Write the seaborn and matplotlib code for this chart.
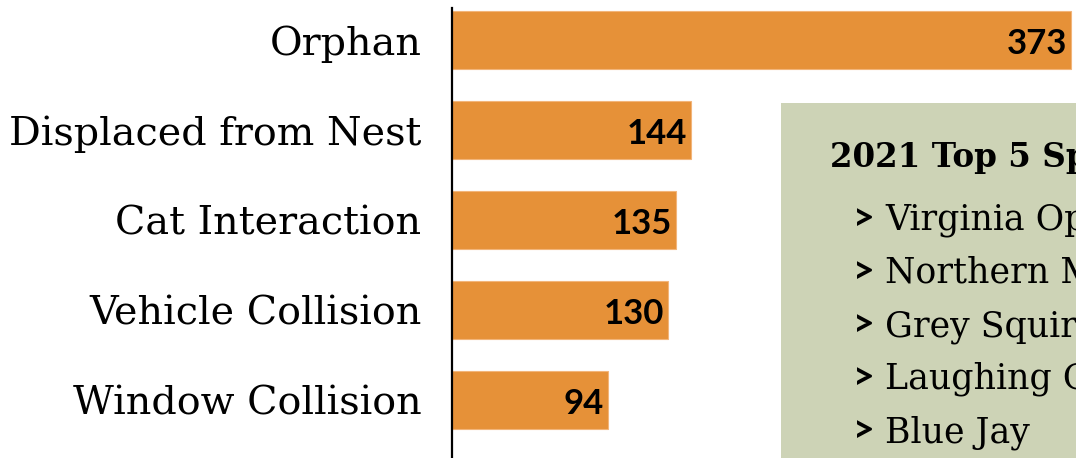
import matplotlib.pyplot as plt
import seaborn as sns
import pandas as pd
from matplotlib.patches import Rectangle

# datos
causes = ["Orphan", "Displaced from Nest", "Cat Interaction", "Vehicle Collision", "Window Collision"]
counts = [373, 144, 135, 130, 94]
box_title = "2021 Top 5 Species"
species = ["Virginia Opossum", "Northern Mockingbird", "Grey Squirrel", "Laughing Gull", "Blue Jay"]

df = pd.DataFrame({"cause": causes, "count": counts})

sns.set_theme(style="white")
W, H = 1076, 458
fig = plt.figure(figsize=(W / 100, H / 100), dpi=100)
ax = fig.add_axes([452 / W, 0, 624 / W, 450 / H])

sns.barplot(data=df, y="cause", x="count", orient="h", color="#E69138",
            saturation=1, width=0.64, edgecolor="#F2B57A", linewidth=0.8, ax=ax)

ax.set_xlim(0, 376)
ax.set_ylim(4.644, -0.356)
ax.set_xlabel("")
ax.set_ylabel("")
ax.set_xticks([])
for s in ["top", "right", "bottom"]:
    ax.spines[s].set_visible(False)
ax.spines["left"].set_color("black")
ax.spines["left"].set_linewidth(1.6)
ax.tick_params(axis="y", length=0, pad=22)
for lab in ax.get_yticklabels():
    lab.set_fontfamily("DejaVu Serif")
    lab.set_fontsize(28.5)
    lab.set_color("black")

# etiquetas de valor dentro de la barra
for i, v in enumerate(counts):
    ax.annotate(str(v), xy=(v, i), xytext=(-4, -4), textcoords="offset pixels",
                ha="right", va="center", fontsize=25, fontweight="bold",
                family="Lato", color="black")

# recuadro de especies
fig.patches.append(Rectangle((781 / W, 0), 400 / W, (H - 103) / H,
                             transform=fig.transFigure, facecolor="#CDD3B6",
                             edgecolor="none", zorder=0))
fig.text(830 / W, 1 - 167 / H, box_title, family="DejaVu Serif", fontweight="bold",
         fontsize=23.5, ha="left", va="baseline", color="black")
for k, name in enumerate(species):
    yb = 1 - (230 + 53 * k) / H
    fig.text(853 / W, yb, ">", family="Lato", fontweight="bold", fontsize=27,
             ha="left", va="baseline", color="black")
    fig.text(885 / W, yb, name, family="DejaVu Serif", fontsize=25,
             ha="left", va="baseline", color="black")

fig.savefig("out.png", dpi=100)
